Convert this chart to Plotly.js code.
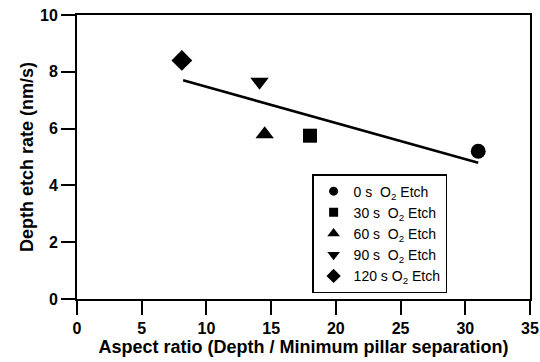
<!DOCTYPE html>
<html>
<head>
<meta charset="utf-8">
<script src="https://cdn.plot.ly/plotly-3.0.1.min.js"></script>
<style>html,body{margin:0;padding:0;background:#fff;}#chart{width:540px;height:362px;}</style>
</head>
<body>
<div id="chart"></div>
<script>
// Data
const seriesNames = ["0 s  O<sub>2</sub> Etch", "30 s  O<sub>2</sub> Etch", "60 s  O<sub>2</sub> Etch", "90 s  O<sub>2</sub> Etch", "120 s O<sub>2</sub> Etch"];
const aspectRatio = [31.0, 18.0, 14.5, 14.1, 8.1];
const etchRate = [5.2, 5.75, 5.8, 7.65, 8.4];
const markerSymbols = ["circle", "square", "triangle-up", "triangle-down", "diamond"];
const markerSizes = [15, 14, 16, 16, 16];
const legendMarkerSizes = [9, 9, 11, 11, 11];
const fitX = [8.2, 31.0];
const fitY = [7.7, 4.8];
const xTicks = [0, 5, 10, 15, 20, 25, 30, 35];
const yTicks = [0, 2, 4, 6, 8, 10];

const traces = [];
for (let i = 0; i < seriesNames.length; i++) {
  traces.push({
    x: [aspectRatio[i]], y: [etchRate[i]],
    type: "scatter", mode: "markers", name: seriesNames[i],
    marker: {symbol: markerSymbols[i], size: markerSizes[i], color: "#000"},
    cliponaxis: false, showlegend: false, legendgroup: "g" + i
  });
}
// legend entries (smaller symbols as in the reference)
for (let i = 0; i < seriesNames.length; i++) {
  traces.push({
    x: [null], y: [null],
    type: "scatter", mode: "markers", name: seriesNames[i],
    marker: {symbol: markerSymbols[i], size: legendMarkerSizes[i], color: "#000"},
    showlegend: true, legendgroup: "g" + i
  });
}
traces.push({
  x: fitX, y: fitY, type: "scatter", mode: "lines",
  line: {color: "#000", width: 2.5}, showlegend: false, hoverinfo: "skip"
});

const fam = "Liberation Sans, Arial, sans-serif";
const tickFont = {family: fam, size: 16, color: "#000", weight: "bold"};
const titleFont = {family: fam, size: 18, color: "#000", weight: "bold"};
const axisCommon = {
  showline: true, linecolor: "#000", linewidth: 2, mirror: true,
  ticks: "outside", ticklen: 14, tickwidth: 2, tickcolor: "#000",
  showgrid: false, zeroline: false,
  tickfont: tickFont
};
const layout = {
  width: 540, height: 362,
  margin: {l: 77, r: 10, t: 15, b: 63},
  paper_bgcolor: "#fff", plot_bgcolor: "#fff",
  font: {family: fam, color: "#000"},
  showlegend: true,
  xaxis: Object.assign({}, axisCommon, {
    range: [0, 35], tickvals: xTicks, ticktext: xTicks.map(String),
    title: {text: "Aspect ratio (Depth / Minimum pillar separation)", font: titleFont, standoff: 0}
  }),
  yaxis: Object.assign({}, axisCommon, {
    range: [0, 10], tickvals: yTicks, ticktext: yTicks.map(String),
    title: {text: "Depth etch rate (nm/s)", font: titleFont, standoff: 2}
  }),
  legend: {
    x: 0.519, y: 0.44, xanchor: "left", yanchor: "top",
    bordercolor: "#000", borderwidth: 1.5, bgcolor: "#fff",
    font: {family: fam, size: 14, color: "#000"},
    itemwidth: 30, tracegroupgap: 0, itemsizing: "trace"
  }
};
Plotly.newPlot("chart", traces, layout, {displayModeBar: false, staticPlot: true});
</script>
</body>
</html>
